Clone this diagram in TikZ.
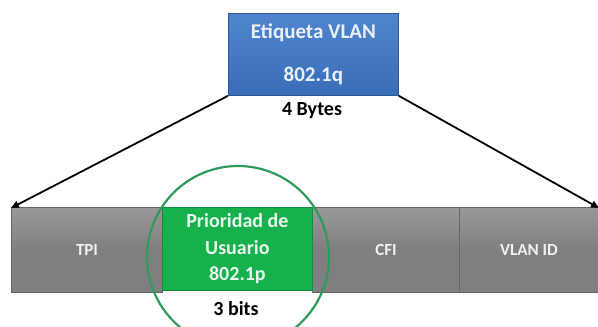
\documentclass[tikz,border=0pt]{standalone}
\usepackage{fontspec}
\setmainfont{Carlito}
\usetikzlibrary{arrows.meta}
\definecolor{azul}{HTML}{3A6DB8}
\definecolor{azulclaro}{HTML}{4F84CE}
\definecolor{verde}{HTML}{16B04C}
\definecolor{verdeosc}{HTML}{2E9A5C}
\definecolor{gris}{HTML}{7F7F7F}
\definecolor{grisosc}{HTML}{666666}
\begin{document}
\begin{tikzpicture}[x=1pt,y=-1pt,
  campo/.style={top color=gris!80!white,bottom color=gris,middle color=gris,draw=grisosc,line width=1pt,
    inner sep=0pt,anchor=north west,
    minimum height=85pt,text=white!88!gris,font=\bfseries\fontsize{17}{20}\selectfont},
  etiqueta/.style={top color=azulclaro,bottom color=azul,draw=azul!80!black,line width=0.8pt,
    inner sep=0pt,anchor=north west,text=white!90!azul,align=center,
    font=\bfseries\fontsize{21}{24}\selectfont},
  caja/.style={fill=verde,draw=verde!80!black,line width=0.8pt,inner sep=0pt,anchor=north west,
    text=white!90!verde,align=center,font=\bfseries\fontsize{20}{26.5}\selectfont},
  nota/.style={font=\bfseries\fontsize{20}{24}\selectfont},
  flecha/.style={-{Triangle[length=8pt,width=7pt]},line width=1.8pt}]
\useasboundingbox (0,0) rectangle (598,327);
% trama de la etiqueta
\node[campo,minimum width=151pt] (tpi) at (11,207) {TPI};
\node[campo,minimum width=147pt] (cfi) at (312,207) {CFI};
\node[campo,minimum width=139pt] (vlanid) at (459,207) {VLAN ID};
\node[caja,minimum width=150pt,minimum height=83pt] (prio) at (162,207) {Prioridad de\\Usuario\\802.1p};
\node[etiqueta,minimum width=170pt,minimum height=82pt] (vlan) at (228,13) {Etiqueta VLAN\\[19pt]802.1q};
\node[nota] (bytes) at (312,111) {4 Bytes};
\node[nota] (bits) at (236,309) {3 bits};
% flechas
\draw[flecha] (vlan.south west) -- ([yshift=-1pt]tpi.north west);
\draw[flecha] (vlan.south east) -- ([yshift=-1pt]vlanid.north east);
\draw[verdeosc,line width=2.2pt] (238,257) circle[radius=91pt];
\end{tikzpicture}
\end{document}
